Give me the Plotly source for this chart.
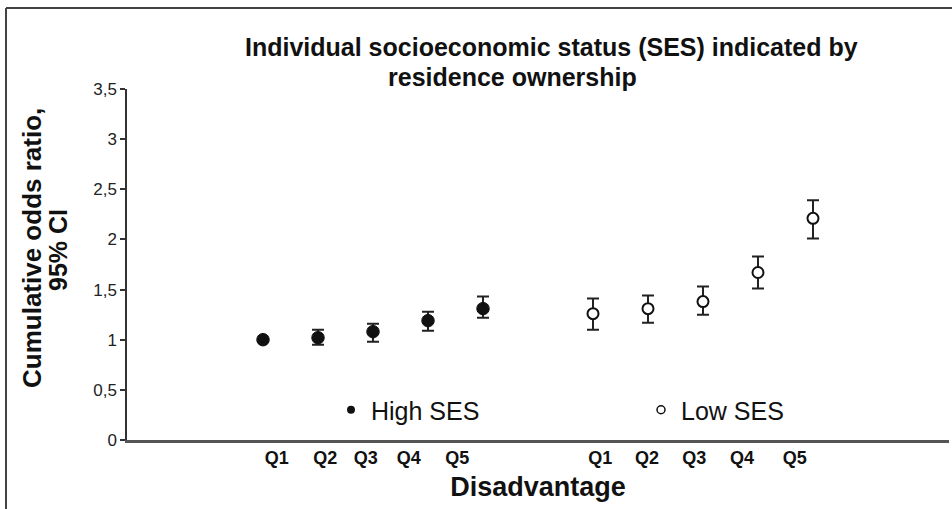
import plotly.graph_objects as go

# ---- data ----
quintiles = ["Q1", "Q2", "Q3", "Q4", "Q5"]
x_high = [1, 2, 3, 4, 5]
x_low = [7, 8, 9, 10, 11]
high_or = [1.00, 1.02, 1.08, 1.19, 1.31]
high_upper = [None, 1.10, 1.16, 1.28, 1.43]
high_lower = [None, 0.95, 0.98, 1.09, 1.22]
low_or = [1.26, 1.31, 1.38, 1.67, 2.21]
low_upper = [1.41, 1.44, 1.53, 1.83, 2.39]
low_lower = [1.10, 1.17, 1.25, 1.51, 2.01]
# tick label positions as drawn in the original (slightly offset from the points)
q_label_pos_high = [1.25, 2.13, 2.87, 3.65, 4.53]
q_label_pos_low = [7.13, 7.98, 8.84, 9.71, 10.67]

def plus(v, u):
    return [None if (a is None or b is None) else b - a for a, b in zip(v, u)]

def minus(v, l):
    return [None if (a is None or b is None) else a - b for a, b in zip(v, l)]

FONT = "Arial, Liberation Sans, sans-serif"
INK = "#111111"

fig = go.Figure()
fig.add_trace(go.Scatter(
    x=x_high, y=high_or, mode="markers", showlegend=False,
    marker=dict(size=12.5, color=INK, line=dict(width=1, color=INK)),
    error_y=dict(type="data", symmetric=False,
                 array=plus(high_or, high_upper), arrayminus=minus(high_or, high_lower),
                 color="#222222", thickness=2, width=6),
))
fig.add_trace(go.Scatter(
    x=x_low, y=low_or, mode="markers", showlegend=False,
    marker=dict(size=11, color="white", line=dict(width=2, color=INK)),
    error_y=dict(type="data", symmetric=False,
                 array=plus(low_or, low_upper), arrayminus=minus(low_or, low_lower),
                 color="#222222", thickness=2, width=6),
))
# legend entries
fig.add_trace(go.Scatter(x=[None], y=[None], mode="markers", name="High SES",
                         marker=dict(size=8, color=INK)))
fig.add_trace(go.Scatter(x=[None], y=[None], mode="markers", name="Low SES",
                         marker=dict(size=8, color="white", line=dict(width=1.5, color=INK))))

W, H = 952, 509
L, R, T, B = 127, 3, 89, 69
pw, ph = W - L - R, H - T - B

def px_to_paper_x(px):
    return (px - L) / pw

def px_to_paper_y(py):
    return (H - B - py) / ph

fig.update_layout(
    width=W, height=H,
    margin=dict(l=L, r=R, t=T, b=B, autoexpand=False),
    paper_bgcolor="white", plot_bgcolor="white",
    separators=",.",
    font=dict(family=FONT, color=INK),
    showlegend=True,
    legend=dict(orientation="h", x=px_to_paper_x(331), y=px_to_paper_y(410),
                xanchor="left", yanchor="middle",
                font=dict(size=25, family=FONT, color=INK),
                entrywidth=265, entrywidthmode="pixels",
                bgcolor="rgba(0,0,0,0)"),
    xaxis=dict(
        range=[-1.473, 13.473],
        tickvals=q_label_pos_high + q_label_pos_low,
        ticktext=quintiles + quintiles,
        tickfont=dict(size=18, family=FONT, color=INK, weight="bold"),
        ticks="", showgrid=False, zeroline=False, ticklabelstandoff=0,
        showline=True, linecolor="#555555", linewidth=2.5,
        title=dict(text="<b>Disadvantage</b>", font=dict(size=27, family=FONT, color=INK),
                   standoff=10),
    ),
    yaxis=dict(
        range=[0, 3.5], dtick=0.5, tick0=0,
        tickfont=dict(size=17, family=FONT, color="#222222"),
        ticks="outside", ticklen=5, tickcolor="#333333", tickwidth=1.5,
        showgrid=False, zeroline=False,
        showline=True, linecolor="#333333", linewidth=1.5,
    ),
    annotations=[
        dict(text="<b>Individual socioeconomic status (SES) indicated by</b>",
             xref="paper", yref="paper", x=px_to_paper_x(551), y=px_to_paper_y(47),
             xanchor="center", yanchor="middle", showarrow=False,
             font=dict(size=25, family=FONT, color=INK)),
        dict(text="<b>residence ownership</b>",
             xref="paper", yref="paper", x=px_to_paper_x(512), y=px_to_paper_y(77),
             xanchor="center", yanchor="middle", showarrow=False,
             font=dict(size=25, family=FONT, color=INK)),
        # y-axis title, two lines set tightly as in the original
        dict(text="<b>Cumulative odds ratio,</b>", textangle=-90,
             xref="paper", yref="paper", x=px_to_paper_x(32), y=px_to_paper_y(248),
             xanchor="center", yanchor="middle", showarrow=False,
             font=dict(size=26, family=FONT, color=INK)),
        dict(text="<b>95% CI</b>", textangle=-90,
             xref="paper", yref="paper", x=px_to_paper_x(58), y=px_to_paper_y(250),
             xanchor="center", yanchor="middle", showarrow=False,
             font=dict(size=25, family=FONT, color=INK)),
    ],
    shapes=[
        dict(type="line", xref="paper", yref="paper",
             x0=px_to_paper_x(6), x1=px_to_paper_x(960),
             y0=px_to_paper_y(8), y1=px_to_paper_y(8),
             line=dict(color="#444444", width=2)),
        dict(type="line", xref="paper", yref="paper",
             x0=px_to_paper_x(6), x1=px_to_paper_x(6),
             y0=px_to_paper_y(8), y1=px_to_paper_y(520),
             line=dict(color="#444444", width=2)),
    ],
)

fig.write_html("out.html", config={"displayModeBar": False},
               post_script="document.body.style.margin='0';document.body.style.overflow='hidden';")
